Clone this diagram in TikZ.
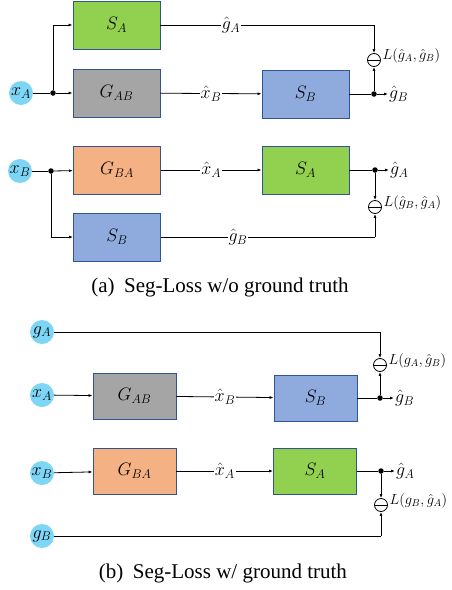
\RequirePackage{fix-cm}
\documentclass[tikz,border=0pt]{standalone}
\usepackage{amsmath,amssymb}
\usepackage{fontspec}
\newfontfamily\capfont{Liberation Serif}
\usetikzlibrary{arrows.meta,positioning,calc}

\definecolor{segA}{HTML}{92D050}
\definecolor{genAB}{HTML}{A5A5A5}
\definecolor{segB}{HTML}{8FAADC}
\definecolor{genBA}{HTML}{F4B183}
\definecolor{inpblue}{HTML}{7DD6F5}
\definecolor{edgeblue}{HTML}{2F5597}

\tikzset{
  blk/.style={draw=edgeblue, line width=0.9pt, minimum width=87, minimum height=48,
    inner sep=0pt, font=\fontsize{18}{20}\selectfont},
  blkb/.style={blk, minimum width=83, minimum height=46},
  inp/.style={circle, fill=inpblue, minimum size=24, inner sep=0pt,
    font=\fontsize{18}{20}\selectfont},
  jdot/.style={circle, fill=black, minimum size=5.5, inner sep=0pt},
  lossop/.style={circle, draw, line width=0.8pt, minimum size=13, inner sep=0pt,
    path picture={\draw[line width=0.8pt] (path picture bounding box.west) -- (path picture bounding box.east);}},
  lbl/.style={fill=white, inner sep=1pt, font=\fontsize{18}{20}\selectfont},
  outl/.style={anchor=west, inner sep=1pt, font=\fontsize{18}{20}\selectfont},
  lossl/.style={anchor=west, inner sep=0.5pt, font=\fontsize{14.5}{16}\selectfont},
  capt/.style={font=\capfont\fontsize{21}{24}\selectfont},
  wire/.style={line width=0.8pt},
}

\begin{document}
\begin{tikzpicture}[x=1pt, y=-1pt, >={Latex[length=4pt,width=3pt]}]
  \useasboundingbox (0,0) rectangle (451,590);

  % (a) first row pair
  \node[inp] (xA1) at (21,93) {$x_A$};
  \node[jdot] (j1) at (53,93) {};
  \node[blk, fill=segA] (SA1) at (116.5,25) {$S_A$};
  \node[blk, fill=genAB] (GAB1) at (116.5,93) {$G_{AB}$};
  \node[blk, fill=segB] (SB1) at (305.5,94) {$S_B$};
  \node[lossop] (L1) at (374,60) {};
  \node[jdot] (j2) at (374,94) {};
  \node[outl] (gB1) at (388,94) {$\hat{g}_B$};
  \node[lossl] (LL1) at (382,56) {$L(\hat{g}_A,\hat{g}_B)$};

  \draw[wire] (xA1) -- (j1);
  \draw[wire,->] (j1) -- (GAB1);
  \draw[wire,->] (j1) |- (SA1);
  \draw[wire,->] (GAB1) -- node[lbl] {$\hat{x}_B$} (SB1);
  \draw[wire] (SA1.east) -- node[lbl, pos=0.33] {$\hat{g}_A$} (374,25);
  \draw[wire,->] (374,25) -- (L1);
  \draw[wire] (SB1) -- (j2);
  \draw[wire,->] (j2) -- (gB1);
  \draw[wire,->] (j2) -- (L1);

  % (a) second row pair
  \node[inp] (xB1) at (20,171) {$x_B$};
  \node[jdot] (j3) at (51,171) {};
  \node[blk, fill=genBA] (GBA1) at (117,170) {$G_{BA}$};
  \node[blk, fill=segA] (SA2) at (305.5,170) {$S_A$};
  \node[blk, fill=segB] (SB2) at (117,237) {$S_B$};
  \node[jdot] (j4) at (375,170) {};
  \node[outl] (gA2) at (389,170) {$\hat{g}_A$};
  \node[lossop] (L2) at (375,207) {};
  \node[lossl] (LL2) at (383,203) {$L(\hat{g}_B,\hat{g}_A)$};

  \draw[wire] (xB1) -- (j3);
  \draw[wire,->] (j3) -- (GBA1);
  \draw[wire,->] (j3) |- (SB2);
  \draw[wire,->] (GBA1) -- node[lbl] {$\hat{x}_A$} (SA2);
  \draw[wire] (SA2) -- (j4);
  \draw[wire,->] (j4) -- (gA2);
  \draw[wire,->] (j4) -- (L2);
  \draw[wire] (SB2.east) -- node[lbl, pos=0.36] {$\hat{g}_B$} (375,237);
  \draw[wire,->] (375,237) -- (L2);

  \node[capt] (capA) at (220,287) {(a)\hspace{0.45em}Seg-Loss w/o ground truth};

  % (b) with ground truth
  \node[inp] (gtA) at (42,332) {$g_A$};
  \node[lossop] (L3) at (380,365) {};
  \node[lossl] (LL3) at (388,361) {$L(g_A,\hat{g}_B)$};
  \node[inp] (xA2) at (42,395) {$x_A$};
  \node[blkb, fill=genAB] (GAB2) at (134.5,396) {$G_{AB}$};
  \node[blkb, fill=segB] (SB3) at (315.5,398) {$S_B$};
  \node[jdot] (j5) at (380,398) {};
  \node[outl] (gB3) at (394,398) {$\hat{g}_B$};

  \draw[wire] (gtA) -| (380,332);
  \draw[wire,->] (380,332) -- (L3);
  \draw[wire,->] (xA2) -- (GAB2);
  \draw[wire,->] (GAB2) -- node[lbl] {$\hat{x}_B$} (SB3);
  \draw[wire] (SB3) -- (j5);
  \draw[wire,->] (j5) -- (gB3);
  \draw[wire,->] (j5) -- (L3);

  \node[inp] (xB2) at (42,473) {$x_B$};
  \node[blkb, fill=genBA] (GBA2) at (134.5,471) {$G_{BA}$};
  \node[blkb, fill=segA] (SA3) at (315,471) {$S_A$};
  \node[jdot] (j6) at (381,471) {};
  \node[outl] (gA3) at (395,471) {$\hat{g}_A$};
  \node[lossop] (L4) at (381,505) {};
  \node[lossl] (LL4) at (389,501) {$L(g_B,\hat{g}_A)$};
  \node[inp] (gtB) at (42,536) {$g_B$};

  \draw[wire,->] (xB2) -- (GBA2);
  \draw[wire,->] (GBA2) -- node[lbl] {$\hat{x}_A$} (SA3);
  \draw[wire] (SA3) -- (j6);
  \draw[wire,->] (j6) -- (gA3);
  \draw[wire,->] (j6) -- (L4);
  \draw[wire] (gtB) -| (381,536);
  \draw[wire,->] (381,536) -- (L4);

  \node[capt] (capB) at (223,573) {(b)\hspace{0.45em}Seg-Loss w/ ground truth};
\end{tikzpicture}
\end{document}
